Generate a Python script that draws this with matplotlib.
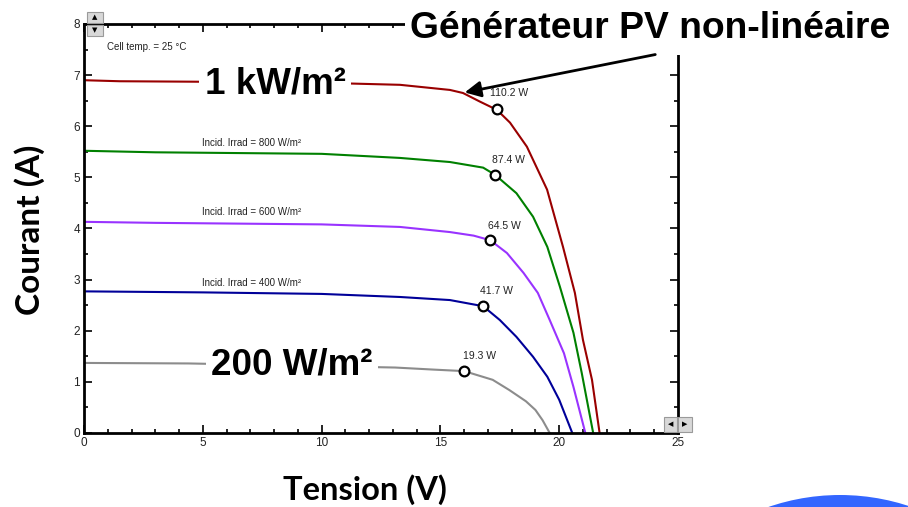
import matplotlib
matplotlib.use('Agg')
import matplotlib.pyplot as plt
from matplotlib.patches import Rectangle, Ellipse
from matplotlib.ticker import MultipleLocator

# I-V curves (volts, amps)
v_1000 = [0, 1.5, 5, 10, 13.3, 15.4, 15.95, 16.67, 17.38, 17.93, 18.64, 19.49, 20.16, 20.66, 21.0, 21.38, 21.7]
i_1000 = [6.9, 6.88, 6.87, 6.85, 6.81, 6.71, 6.65, 6.48, 6.32, 6.07, 5.6, 4.76, 3.64, 2.74, 1.82, 1.04, 0]
v_800 = [0, 3, 10, 13.3, 15.4, 16.8, 17.3, 18.2, 18.9, 19.5, 20.03, 20.6, 20.95, 21.43]
i_800 = [5.52, 5.49, 5.46, 5.38, 5.3, 5.19, 5.05, 4.69, 4.23, 3.64, 2.86, 1.96, 1.17, 0]
v_600 = [0, 3, 10, 13.3, 15.4, 16.4, 17.1, 17.8, 18.5, 19.1, 19.6, 20.2, 20.6, 21.1]
i_600 = [4.13, 4.11, 4.08, 4.03, 3.93, 3.86, 3.77, 3.52, 3.13, 2.74, 2.21, 1.56, 0.9, 0]
v_400 = [0, 5, 10, 13.3, 15.4, 16.8, 17.5, 18.2, 18.9, 19.5, 20.0, 20.55]
i_400 = [2.77, 2.75, 2.72, 2.66, 2.6, 2.48, 2.21, 1.88, 1.49, 1.1, 0.65, 0]
v_200 = [0, 4.4, 13.1, 14.7, 16.0, 17.2, 17.9, 18.6, 19.0, 19.3, 19.6]
i_200 = [1.37, 1.36, 1.28, 1.24, 1.21, 1.04, 0.84, 0.62, 0.45, 0.25, 0]

colors = ['#990000', '#008000', '#9933ff', '#000099', '#8c8c8c']

# maximum power points
mpp_v = [17.4, 17.3, 17.1, 16.8, 16.0]
mpp_i = [6.33, 5.05, 3.77, 2.48, 1.21]
mpp_txt = ['110.2 W', '87.4 W', '64.5 W', '41.7 W', '19.3 W']
mpp_lab_x = [17.1, 17.17, 17.0, 16.67, 15.95]
mpp_lab_y = [6.65, 5.34, 4.05, 2.78, 1.51]

irrad_txt = ['Incid. Irrad = 800 W/m²', 'Incid. Irrad = 600 W/m²', 'Incid. Irrad = 400 W/m²']
irrad_y = [5.67, 4.33, 2.94]

fig = plt.figure(figsize=(9.08, 5.07), dpi=100)
ax = fig.add_axes([0.0925, 0.146, 0.6542, 0.8067])

curves = [(v_1000, i_1000), (v_800, i_800), (v_600, i_600), (v_400, i_400), (v_200, i_200)]
for (v, i), c in zip(curves, colors):
    ax.plot(v, i, color=c, lw=1.5, zorder=2)

ax.plot(mpp_v, mpp_i, 'o', ms=7, mfc='white', mec='black', mew=1.6, zorder=4)
for x, y, t in zip(mpp_lab_x, mpp_lab_y, mpp_txt):
    ax.text(x, y, t, fontsize=7.5, family='Liberation Sans', va='center', ha='left', color='#222222')
for y, t in zip(irrad_y, irrad_txt):
    ax.text(4.97, y, t, fontsize=7, family='Liberation Sans', va='center', ha='left', color='#222222')
ax.text(0.97, 7.55, 'Cell temp. = 25 °C', fontsize=7, family='Liberation Sans', va='center', ha='left', color='#222222')

# big labels sitting on the curves
ax.text(8.04, 6.83, '1 kW/m²', fontsize=26.5, fontweight='bold', family='Liberation Sans',
        ha='center', va='center', zorder=3,
        bbox=dict(facecolor='white', edgecolor='none', pad=4))
ax.text(8.75, 1.33, '200 W/m²', fontsize=26.5, fontweight='bold', family='Liberation Sans',
        ha='center', va='center', zorder=3,
        bbox=dict(facecolor='white', edgecolor='none', pad=4))

ax.set_xlim(0, 25)
ax.set_ylim(0, 8)
ax.xaxis.set_major_locator(MultipleLocator(5))
ax.xaxis.set_minor_locator(MultipleLocator(1))
ax.yaxis.set_major_locator(MultipleLocator(1))
ax.yaxis.set_minor_locator(MultipleLocator(0.5))
ax.tick_params(which='both', direction='in', top=True, right=True, width=1.2, color='black')
ax.tick_params(which='major', length=6, labelsize=8.5, labelcolor='#222222', pad=3)
ax.tick_params(which='minor', length=3)
for lab in ax.get_xticklabels() + ax.get_yticklabels():
    lab.set_family('Liberation Sans')
for s in ax.spines.values():
    s.set_linewidth(2)

fig.text(0.402, 0.034, 'Tension (V)', fontsize=23.5, fontweight='bold', family='Lato', ha='center', va='center')
fig.text(0.033, 0.546, 'Courant (A)', fontsize=24, fontweight='bold', family='Lato',
         ha='center', va='center', rotation=90)

# white block hiding the top-right of the frame, then the title
fig.add_artist(Rectangle((405 / 908, 1 - 55 / 507), 1, 55 / 507, transform=fig.transFigure,
                         facecolor='white', edgecolor='none', zorder=5))
fig.text(0.452, 0.943, 'Générateur PV non-linéaire', fontsize=26.8, fontweight='bold',
         family='Liberation Sans', ha='left', va='center', zorder=6)
fig.add_artist(matplotlib.patches.FancyArrowPatch((658 / 908, 1 - 54 / 507), (462 / 908, 1 - 93 / 507),
                                                  transform=fig.transFigure, arrowstyle='-|>',
                                                  mutation_scale=24, lw=2, color='black', zorder=7))

# little scroll buttons from the original software screenshot
def button(x0, y0, w, h, glyph):
    fig.add_artist(Rectangle((x0 / 908, 1 - (y0 + h) / 507), w / 908, h / 507, transform=fig.transFigure,
                             facecolor='#d8d8d8', edgecolor='#9a9a9a', lw=0.8, zorder=8))
    fig.text((x0 + w / 2) / 908, 1 - (y0 + h / 2) / 507, glyph, fontsize=5, ha='center', va='center',
             color='black', zorder=9)

button(87, 12, 16, 11, '▲')
button(87, 25, 16, 11, '▼')
button(664, 417, 13, 15, '◀')
button(678, 417, 14, 15, '▶')

# blue shape peeking in at the lower right corner
fig.add_artist(Ellipse((840 / 908, 1 - 715 / 507), 440 / 908, 440 / 507, transform=fig.transFigure,
                       facecolor='#3366ff', edgecolor='none', zorder=5))

fig.savefig('out.png', dpi=100)
